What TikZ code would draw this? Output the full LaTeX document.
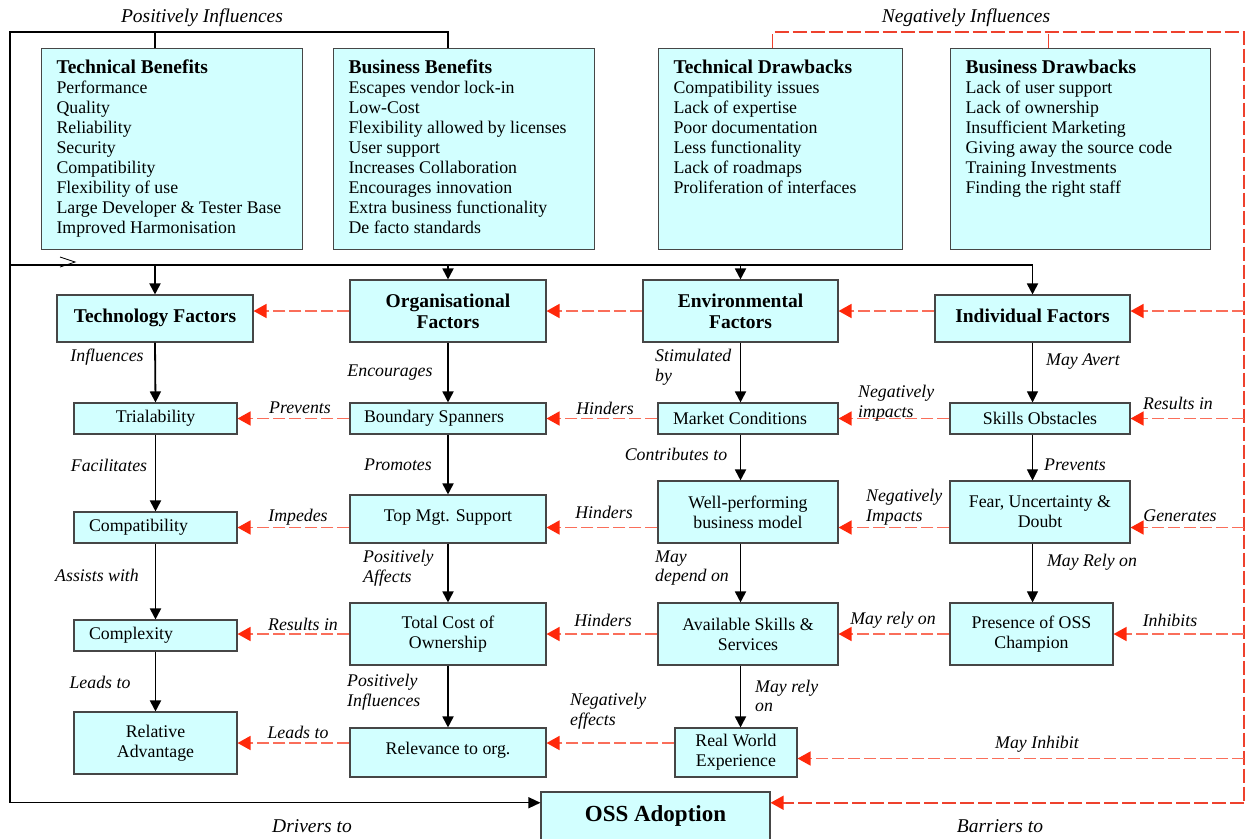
\documentclass[tikz,border=0pt]{standalone}
\usepackage{fontspec}
\setmainfont{Liberation Serif}
\usetikzlibrary{arrows.meta, positioning, calc}
\definecolor{boxcyan}{RGB}{210,255,255}
\definecolor{boxline}{RGB}{70,70,70}
\definecolor{negline}{RGB}{250,110,90}
\definecolor{negtip}{RGB}{255,40,10}
\definecolor{negframe}{RGB}{238,65,45}

\tikzset{
  cbox/.style={draw=boxline, fill=boxcyan, line width=1.1pt, align=center, inner sep=2pt,
    font=\fontsize{17.8}{20}\selectfont},
  sz/.style 2 args={minimum width=#1pt, minimum height=#2pt},
  factor/.style={cbox, font=\fontsize{19.5}{21}\selectfont\bfseries},
  listbox/.style={cbox, anchor=north west, align=left, inner xsep=15pt, inner ysep=11pt,
    minimum width=261pt, minimum height=201pt},
  lbl/.style={font=\fontsize{17.8}{19.5}\selectfont\itshape, align=left, inner sep=0pt},
  biglbl/.style={lbl, font=\fontsize{19.5}{21}\selectfont\itshape},
  frame/.style={line width=1.4pt},
  drive/.style={line width=1.8pt, -{Triangle[length=11pt,width=11pt]}},
  thindrive/.style={line width=0.9pt, -{Triangle[length=11pt,width=11pt]}},
  negbound/.style={negframe, line width=1.5pt, dash pattern=on 14pt off 4pt},
  hamper/.style={negline, line width=1.6pt, dash pattern=on 12pt off 4pt,
    -{Triangle[length=13pt,width=14pt,color=negtip]}},
}

\begin{document}
\begin{tikzpicture}[x=1pt, y=-1pt]
  \useasboundingbox (0,0) rectangle (1247,838);

  % Benefits and drawbacks
  \node[listbox] (techben) at (41,48) {\parbox[t][179pt][t]{231pt}{%
    {\bfseries\fontsize{19.5}{21}\selectfont Technical Benefits}\\Performance\\Quality\\Reliability\\Security\\%
    Compatibility\\Flexibility of use\\Large Developer \& Tester Base\\Improved Harmonisation}};
  \node[listbox] (bizben) at (333,48) {\parbox[t][179pt][t]{231pt}{%
    {\bfseries\fontsize{19.5}{21}\selectfont Business Benefits}\\Escapes vendor lock-in\\Low-Cost\\%
    Flexibility allowed by licenses\\User support\\Increases Collaboration\\Encourages innovation\\%
    Extra business functionality\\De facto standards}};
  \node[listbox, minimum width=244pt] (techdraw) at (658,48) {\parbox[t][179pt][t]{214pt}{%
    {\bfseries\fontsize{19.5}{21}\selectfont Technical Drawbacks}\\Compatibility issues\\Lack of expertise\\%
    Poor documentation\\Less functionality\\Lack of roadmaps\\Proliferation of interfaces}};
  \node[listbox, minimum width=260pt] (bizdraw) at (950,48) {\parbox[t][179pt][t]{230pt}{%
    {\bfseries\fontsize{19.5}{21}\selectfont Business Drawbacks}\\Lack of user support\\Lack of ownership\\%
    Insufficient Marketing\\Giving away the source code\\Training Investments\\Finding the right staff}};

  % Factors
  \node[factor, sz={196}{47}] (techf) at (155,318.5) {\raisebox{5pt}{Technology Factors}};
  \node[factor, sz={196}{62}] (orgf) at (448,311) {Organisational\\Factors};
  \node[factor, sz={195}{62}] (envf) at (740.5,311) {Environmental\\Factors};
  \node[factor, sz={195}{47}] (indf) at (1032.5,318.5) {\raisebox{5pt}{Individual Factors}};

  \node[cbox, sz={163}{31}] (trial) at (155.5,418.5) {Trialability};
  \node[cbox, sz={196}{31}] (bspan) at (448,418.5) {Boundary Spanners\hspace*{28pt}};
  \node[cbox, sz={180}{31}] (market) at (748,418.5) {Market Conditions\hspace*{16pt}};
  \node[cbox, sz={180}{31}] (skills) at (1040,418.5) {Skills Obstacles};

  \node[cbox, sz={163}{31}, text width=133pt, align=left] (compat) at (155.5,527.5) {Compatibility};
  \node[cbox, sz={196}{48}] (topmgt) at (448,519) {\raisebox{6pt}{Top Mgt. Support}};
  \node[cbox, sz={180}{62}] (wellperf) at (748,512) {Well-performing\\business model};
  \node[cbox, sz={180}{62}] (fud) at (1040,512) {Fear, Uncertainty \&\\Doubt};

  \node[cbox, sz={163}{31}, text width=133pt, align=left] (complex) at (155.5,635.5) {Complexity};
  \node[cbox, sz={196}{62}] (tco) at (448,634) {Total Cost of\\Ownership};
  \node[cbox, sz={180}{62}] (avail) at (748,634) {Available Skills \&\\Services};
  \node[cbox, sz={163}{62}] (champion) at (1031.5,634) {Presence of OSS\\Champion};

  \node[cbox, sz={163}{62}] (reladv) at (155.5,743) {Relative\\Advantage};
  \node[cbox, sz={196}{49}] (relev) at (448,752.5) {\raisebox{8pt}{Relevance to org.}};
  \node[cbox, sz={122}{49}] (realw) at (736,752.5) {Real World\\Experience};

  \node[cbox, sz={229}{48}, font=\fontsize{23}{25}\selectfont\bfseries] (oss) at (655.5,816) {\raisebox{3pt}{OSS Adoption}};

  % Routing points
  \coordinate (ptop) at (10,32);
  \coordinate (pmid) at (10,265);
  \coordinate (ntop) at (1244,32);
  \coordinate (ecol) at (envf.south);
  \coordinate (icol) at (indf.south);
  \coordinate (ossin) at ($(oss.north west)!0.23!(oss.south west)$);
  \coordinate (ossneg) at ($(oss.north east)!0.23!(oss.south east)$);

  % Drivers
  \draw[frame] (techf.north |- techben.north) -- (techf.north |- ptop);
  \draw[frame, -{Triangle[length=12pt,width=11pt]}] (orgf.north |- bizben.north) |- (ptop) |- (ossin);
  \draw[frame] (pmid) -- (pmid -| indf.north);
  \draw[line width=0.8pt] (60,257) -- (75,262) -- (60,267);
  \draw[drive] (techf.north |- pmid) -- (techf.north);
  \draw[drive] (orgf.north |- pmid) -- (orgf.north);
  \draw[drive] (envf.north |- pmid) -- (envf.north);
  \draw[drive] (indf.north |- pmid) -- (indf.north);

  \draw[drive] (techf.south) -- (trial.north);
  \draw[drive] (trial.south) -- (compat.north);
  \draw[drive] (compat.south) -- (complex.north);
  \draw[drive] (complex.south) -- (reladv.north);
  \draw[drive] (orgf.south) -- (bspan.north);
  \draw[drive] (bspan.south) -- (topmgt.north);
  \draw[drive] (topmgt.south) -- (tco.north);
  \draw[drive] (tco.south) -- (relev.north);
  \draw[drive] (ecol) -- (ecol |- market.north);
  \draw[drive] (ecol |- market.south) -- (ecol |- wellperf.north);
  \draw[drive] (ecol |- wellperf.south) -- (ecol |- avail.north);
  \draw[drive] (ecol |- avail.south) -- (ecol |- realw.north);
  \draw[thindrive] (icol) -- (icol |- skills.north);
  \draw[thindrive] (icol |- skills.south) -- (icol |- fud.north);
  \draw[thindrive] (icol |- fud.south) -- (icol |- champion.north);

  % Barriers
  \draw[negbound] ([xshift=-8pt]techdraw.north) |- (ntop) -- (ntop |- ossneg);
  \draw[negbound] ([xshift=-32pt]bizdraw.north) -- ([xshift=-32pt]bizdraw.north |- ntop);
  \draw[negbound, -{Triangle[length=13pt,width=14pt,color=negtip]}] (ntop |- ossneg) -- (ossneg);

  \draw[hamper] (orgf.west) -- (orgf.west -| techf.east);
  \draw[hamper] (envf.west) -- (orgf.east);
  \draw[hamper] (indf.west |- envf.west) -- (envf.east);
  \draw[hamper] (ntop |- envf.east) -- (envf.east -| indf.east);

  \draw[hamper] (bspan.west) -- (trial.east);
  \draw[hamper] (market.west) -- (bspan.east);
  \draw[hamper] (skills.west) -- (market.east);
  \draw[hamper] (ntop |- skills.east) -- (skills.east);

  \draw[hamper] (topmgt.west |- compat.east) -- (compat.east);
  \draw[hamper] (wellperf.west |- compat.east) -- (topmgt.east |- compat.east);
  \draw[hamper] (fud.west |- compat.east) -- (wellperf.east |- compat.east);
  \draw[hamper] (ntop |- compat.east) -- (fud.east |- compat.east);

  \draw[hamper] (tco.west) -- (complex.east |- tco.west);
  \draw[hamper] (avail.west) -- (tco.east);
  \draw[hamper] (champion.west) -- (avail.east);
  \draw[hamper] (ntop |- champion.east) -- (champion.east);

  \draw[hamper] (relev.west |- reladv.east) -- (reladv.east);
  \draw[hamper] (realw.west |- reladv.east) -- (relev.east |- reladv.east);
  \draw[hamper] (ntop |- 0,758.5) -- (realw.east |- 0,758.5);

  % Labels
  \node[biglbl] (lposinf) at (202,18) {Positively Influences};
  \node[biglbl] (lneginf) at (966,18) {Negatively Influences};
  \node[biglbl] (ldrivers) at (312,826) {Drivers to};
  \node[biglbl] (lbarriers) at (1000,826) {Barriers to};

  \node[lbl] (linfl) at (107,357) {Influences};
  \node[lbl] (lfacil) at (109,465) {Facilitates};
  \node[lbl] (lassist) at (97,575) {Assists with};
  \node[lbl] (lleads) at (100,682) {Leads to};

  \node[lbl] (lencour) at (390,373) {Encourages};
  \node[lbl] (lpromo) at (398,465) {Promotes};
  \node[lbl, anchor=west] (lposaff) at (363,568) {Positively\\Affects};
  \node[lbl, anchor=west] (lposinfl) at (347,692) {Positively\\Influences};

  \node[lbl, anchor=west] (lstim) at (655,367) {Stimulated\\by};
  \node[lbl] (lcontrib) at (676,454) {Contributes to};
  \node[lbl, anchor=west] (ldepend) at (655,568) {May\\depend on};
  \node[lbl, anchor=west] (lmayrely) at (755,696) {May rely\\on};

  \node[lbl] (lavert) at (1083,362) {May Avert};
  \node[lbl] (lprevi) at (1075,465) {Prevents};
  \node[lbl] (lrelyi) at (1092,562) {May Rely on};

  \node[lbl] (lprev) at (300,408) {Prevents};
  \node[lbl] (limped) at (298,517) {Impedes};
  \node[lbl] (lresult) at (303,624) {Results in};
  \node[lbl] (lleadsh) at (298,732) {Leads to};

  \node[lbl] (lhind1) at (605,408) {Hinders};
  \node[lbl] (lhind2) at (604,512) {Hinders};
  \node[lbl] (lhind3) at (603,620) {Hinders};
  \node[lbl, anchor=west] (lnegeff) at (570,711) {Negatively\\effects};

  \node[lbl, anchor=west] (lnegimp1) at (858,403) {Negatively\\impacts};
  \node[lbl, anchor=west] (lnegimp2) at (866,507) {Negatively\\Impacts};
  \node[lbl] (lrelyon) at (893,620) {May rely on};

  \node[lbl] (lresin) at (1178,403) {Results in};
  \node[lbl] (lgener) at (1180,516) {Generates};
  \node[lbl] (linhib) at (1170,620) {Inhibits};
  \node[lbl] (lmayinh) at (1037,744) {May Inhibit};
\end{tikzpicture}
\end{document}
